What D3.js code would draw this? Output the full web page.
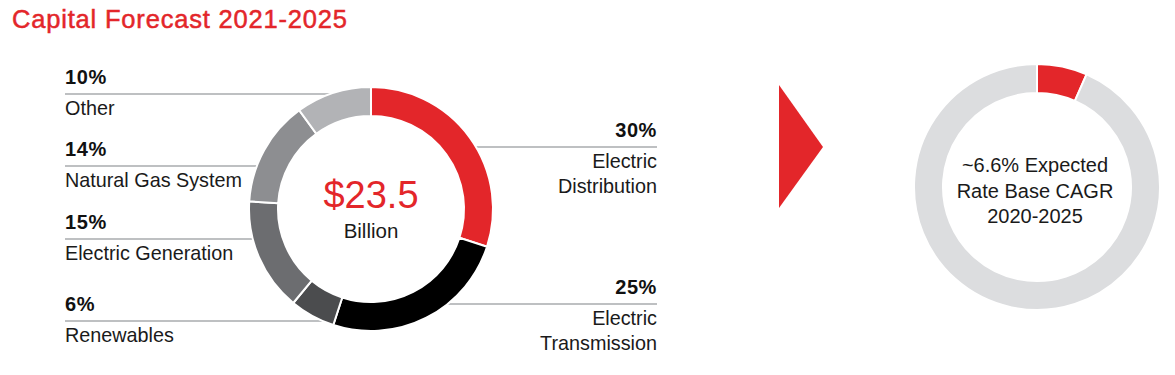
<!DOCTYPE html>
<html>
<head>
<meta charset="utf-8">
<script src="https://cdn.jsdelivr.net/npm/d3@7"></script>
<style>
  body { margin: 0; background: #fff; }
  svg { display: block; font-family: "Liberation Sans", Arial, sans-serif; }
</style>
</head>
<body>
<svg id="chart" width="1175" height="375"></svg>
<script>
// capital forecast split, clockwise from 12 o'clock
const categories = ["Electric Distribution", "Electric Transmission", "Renewables", "Electric Generation", "Natural Gas System", "Other"];
const shares = [30, 25, 6, 15, 14, 10];
const segColors = ["#e3262a", "#000000", "#4b4c4e", "#6c6d70", "#8d8e91", "#b2b3b6"];

// rate base ring
const rateParts = ["CAGR", "rest"];
const rateValues = [6.6, 93.4];
const rateColors = ["#e3262a", "#dcdddf"];

const totalLabel = "$23.5";
const totalUnit = "Billion";
const rateText = ["~6.6% Expected", "Rate Base CAGR", "2020-2025"];

// label layout: which side, y of the leader line, wrapped name lines
const labelLayout = {
  "Electric Distribution": { side: "right", y: 147, lines: ["Electric", "Distribution"] },
  "Electric Transmission": { side: "right", y: 304, lines: ["Electric", "Transmission"] },
  "Renewables": { side: "left", y: 321, lines: ["Renewables"] },
  "Electric Generation": { side: "left", y: 239, lines: ["Electric Generation"] },
  "Natural Gas System": { side: "left", y: 166, lines: ["Natural Gas System"] },
  "Other": { side: "left", y: 94, lines: ["Other"] }
};

const svg = d3.select("#chart");
const red = "#e3262a";

svg.append("text")
  .attr("x", 12).attr("y", 28)
  .attr("fill", red)
  .attr("stroke", red)
  .attr("stroke-width", 0.5)
  .attr("font-size", 25.5)
  .attr("textLength", 335)
  .attr("lengthAdjust", "spacing")
  .text("Capital Forecast 2021-2025");

// main donut
const cx = 371, cy = 209, outerR = 122, innerR = 93;
const leftX = 65, rightX = 657;

const pie = d3.pie().sort(null).value(d => d.value);
const arc = d3.arc().innerRadius(innerR).outerRadius(outerR);
const rows = categories.map((c, i) => ({ name: c, value: shares[i], color: segColors[i] }));

// leader lines first so they sit under the ring
const lines = svg.append("g");
rows.forEach(r => {
  const lay = labelLayout[r.name];
  const dy = lay.y - cy;
  const edge = Math.sqrt(Math.max(0, outerR * outerR - dy * dy));
  const x1 = lay.side === "left" ? leftX : cx + edge - 1;
  const x2 = lay.side === "left" ? cx - edge + 1 : rightX;
  lines.append("line")
    .attr("x1", x1).attr("x2", x2)
    .attr("y1", lay.y).attr("y2", lay.y)
    .attr("stroke", "#a9abae")
    .attr("stroke-width", 1.5);

  const anchor = lay.side === "left" ? "start" : "end";
  const tx = lay.side === "left" ? leftX : rightX;
  svg.append("text")
    .attr("x", tx).attr("y", lay.y - 10)
    .attr("text-anchor", anchor)
    .attr("font-size", 20)
    .attr("font-weight", "bold")
    .attr("letter-spacing", 0.6)
    .attr("fill", "#111")
    .text(r.value + "%");
  lay.lines.forEach((t, j) => {
    svg.append("text")
      .attr("x", tx).attr("y", lay.y + 21 + j * 25)
      .attr("text-anchor", anchor)
      .attr("font-size", 19.8)
      .attr("fill", "#1a1a1a")
      .text(t);
  });
});

svg.append("g")
  .attr("transform", `translate(${cx},${cy})`)
  .selectAll("path")
  .data(pie(rows))
  .join("path")
  .attr("d", arc)
  .attr("fill", d => d.data.color)
  .attr("stroke", "#fff")
  .attr("stroke-width", 2);

svg.append("text")
  .attr("x", cx).attr("y", 208)
  .attr("text-anchor", "middle")
  .attr("fill", red)
  .attr("font-size", 38)
  .text(totalLabel);
svg.append("text")
  .attr("x", cx).attr("y", 238)
  .attr("text-anchor", "middle")
  .attr("fill", "#1a1a1a")
  .attr("font-size", 20.5)
  .text(totalUnit);

// arrow
svg.append("path")
  .attr("d", d3.line()([[779, 85], [823, 147], [779, 208]]))
  .attr("fill", red);

// rate base donut
const cx2 = 1037, cy2 = 187, outer2 = 123, inner2 = 94;
const rateRows = rateParts.map((p, i) => ({ name: p, value: rateValues[i], color: rateColors[i] }));
svg.append("g")
  .attr("transform", `translate(${cx2},${cy2})`)
  .selectAll("path")
  .data(pie(rateRows))
  .join("path")
  .attr("d", d3.arc().innerRadius(inner2).outerRadius(outer2))
  .attr("fill", d => d.data.color)
  .attr("stroke", "#fff")
  .attr("stroke-width", 2);

rateText.forEach((t, i) => {
  svg.append("text")
    .attr("x", cx2 - 2).attr("y", 172 + i * 25.5)
    .attr("text-anchor", "middle")
    .attr("fill", "#1a1a1a")
    .attr("font-size", 20)
    .text(t);
});
</script>
</body>
</html>
